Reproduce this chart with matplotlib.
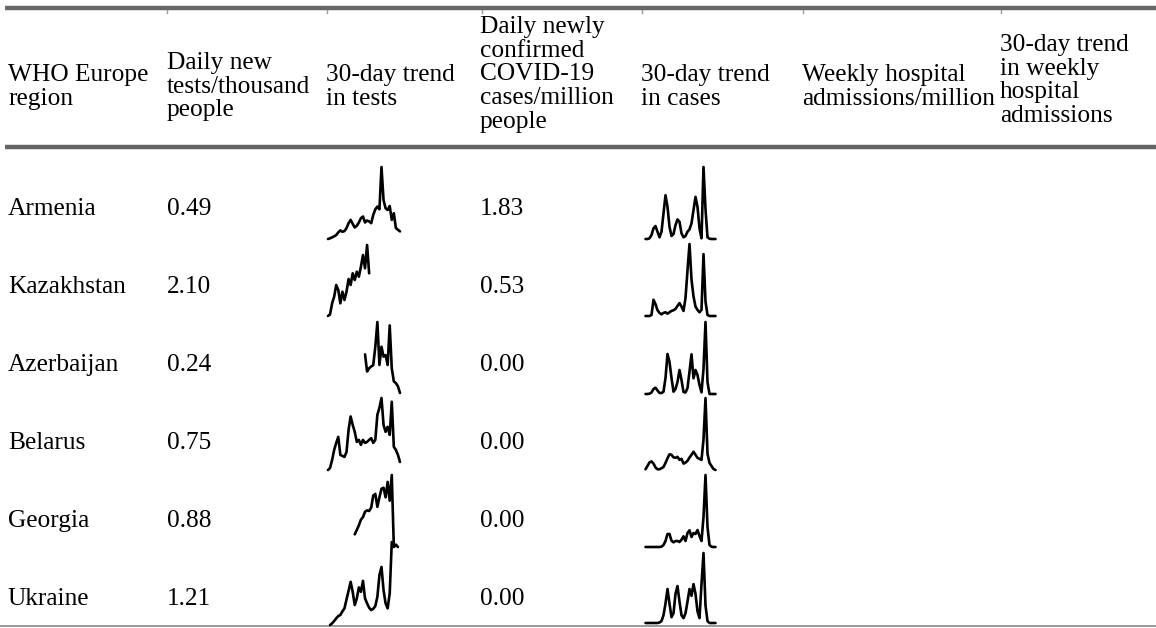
import numpy as np
import matplotlib
matplotlib.use("Agg")
import matplotlib.pyplot as plt
from matplotlib.lines import Line2D

W, H = 1156, 628
nan = np.nan

# ---------------- data ----------------
headers = [
    ["WHO Europe", "region"],
    ["Daily new", "tests/thousand", "people"],
    ["30-day trend", "in tests"],
    ["Daily newly", "confirmed", "COVID-19", "cases/million", "people"],
    ["30-day trend", "in cases"],
    ["Weekly hospital", "admissions/million"],
    ["30-day trend", "in weekly", "hospital", "admissions"],
]
countries = ["Armenia", "Kazakhstan", "Azerbaijan", "Belarus", "Georgia", "Ukraine"]
tests_per_thousand = ["0.49", "2.10", "0.24", "0.75", "0.88", "1.21"]
cases_per_million = ["1.83", "0.53", "0.00", "0.00", "0.00", "0.00"]

tests_armenia = [0, 0.7, 1.7, 2.7, 4, 6.7, 8.7, 7.3, 8, 11, 16, 19.3, 15.3, 11.7, 13.3, 16.7,
                 21, 22.7, 16.7, 18.7, 17.7, 16, 24.3, 30, 32.7, 30, 72.7, 39.3, 31, 29.3,
                 33.3, 19.3, 26, 11, 9.3, 7.7]
tests_kazakhstan = [0, 1.7, 12.7, 19.3, 31, 26, 12.7, 24.3, 16, 24.3, 37, 31, 42.7, 36, 44.3,
                    39.3, 49.3, 61, 47.7, 71, 42.7] + [nan] * 15
tests_azerbaijan = [nan] * 18 + [39, 21.7, 25, 26.7, 28.3, 46.7, 71.7, 28.3, 46.7, 36.7, 38.3,
                                 28.3, 68.3, 25, 11.7, 10, 6.7, 0]
tests_belarus = [0, 2, 10, 20, 27, 33, 15, 14, 13, 18, 40, 53.3, 45, 38, 28, 30, 25, 30, 27,
                 28, 30, 31.7, 27, 30, 55, 62, 71.7, 45, 38, 43, 35, 68, 23, 20, 15, 8]
tests_georgia = [nan] * 13 + [14, 18.3, 22.7, 28.3, 30.7, 36, 37.3, 36.7, 40, 51.7, 53.3, 40.7,
                              50, 58.3, 59.3, 50, 65, 46.7, 71.7, 1.7, 4, 1.7, nan]
tests_ukraine = [nan, 0, 1.7, 4, 6.7, 9, 10, 13.7, 16.7, 25.7, 34.3, 43.3, 33.3, 20, 26.7, 37.7,
                 33.3, 44.3, 26.7, 21.7, 17.3, 15, 16.3, 19, 28.3, 50, 58.3, 35, 21.7, 16.7,
                 31.7, 83.3, nan, nan, nan, nan]

cases_armenia = [0, 0, 0.7, 4, 10.7, 13, 7.3, 1.7, 7.3, 25.7, 44, 32.3, 12.3, 3, 5, 14, 19.7,
                 17.3, 5.7, 1.7, 3, 7.3, 9.7, 15.7, 29, 42.3, 32.3, 10.7, 0.7, 72.3, 30, 1.7,
                 0.3, 0, 0, 0]
cases_kazakhstan = [0, 0, 0, 1, 16, 11.7, 5.7, 3, 1.7, 3, 3.7, 2.3, 3.7, 5, 5.7, 7, 10, 12.7,
                    9.3, 5, 17.7, 45, 71, 36, 19.3, 9.3, 6, 3.7, 6, 61, 14.3, 1, 0, 0, 0, 0]
cases_azerbaijan = [0, 0, 0.3, 1.5, 5, 6.3, 3.5, 1, 1, 2.3, 16, 40, 32, 16, 2.3, 5, 12, 24, 14,
                    2, 1.5, 6, 22.3, 39.7, 15.7, 24, 19, 9, 1.7, 25, 72, 12, 0, 0, 0, 0]
cases_belarus = [0.7, 4, 7.5, 8.5, 6.3, 2.5, 0.7, 0.7, 1.7, 3, 7, 11.5, 15.5, 15, 12.5, 12, 13,
                 10, 11, 6.3, 7.3, 9, 12.3, 15, 18, 15, 12, 11, 10, 30, 71, 16, 7, 4, 1, 0]
cases_georgia = [0, 0, 0, 0, 0, 0, 0, 0, 0.3, 2, 6, 13, 13, 6.3, 4.7, 6, 6, 5, 7.3, 10.7, 6,
                 14, 16.7, 10, 14, 13, 17, 11, 6, 30, 72, 20, 2, 0.3, 0, 0]
cases_ukraine = [0, 0, 0, 0, 0, 0, 0, 0.5, 2, 8, 20, 35, 20, 6, 10, 30, 38, 22, 8, 5, 10, 22, 35,
                 28, 40, 30, 12, 5, 40, 72, 18, 2, 0, 0, 0, 0]

tests_series = [tests_armenia, tests_kazakhstan, tests_azerbaijan, tests_belarus,
                tests_georgia, tests_ukraine]
cases_series = [cases_armenia, cases_kazakhstan, cases_azerbaijan, cases_belarus,
                cases_georgia, cases_ukraine]

# ---------------- layout ----------------
plt.rcParams['font.family'] = ['Liberation Serif', 'DejaVu Serif']
FS = 18.3
fig = plt.figure(figsize=(W / 100, H / 100), dpi=100)
ax = fig.add_axes([0, 0, 1, 1])
ax.set_xlim(0, W)
ax.set_ylim(H, 0)
ax.axis('off')

col_x = [8, 167, 326, 480, 641, 802, 1000]
header_first_y = [75, 63, 75, 27, 75, 75, 45]
line_step = 23.7
for cx, fy, lines in zip(col_x, header_first_y, headers):
    for j, ln in enumerate(lines):
        ax.text(cx, fy + j * line_step, ln, fontsize=FS, va='center', ha='left', color='black')

row_y = [209, 287, 365, 443, 521, 599]
for ry, c, t, cs in zip(row_y, countries, tests_per_thousand, cases_per_million):
    ax.text(col_x[0], ry, c, fontsize=FS, va='center', ha='left')
    ax.text(col_x[1], ry, t, fontsize=FS, va='center', ha='left')
    ax.text(col_x[3], ry, cs, fontsize=FS, va='center', ha='left')

grey = '#666666'
ax.add_line(Line2D([5, W], [8, 8], color=grey, lw=3.2, solid_capstyle='butt'))
ax.add_line(Line2D([5, W], [146.5, 146.5], color=grey, lw=3.2, solid_capstyle='butt'))
ax.add_line(Line2D([0, W], [626, 626], color='#888888', lw=1.2, solid_capstyle='butt'))
for tx in [167, 327, 482, 642, 803, 1001]:
    ax.add_line(Line2D([tx, tx], [10, 13], color='#999999', lw=1.0))

# sparkline boxes (pixel top, bottom)
tests_box = [(167, 239), (245, 316), (322, 393), (398, 470), (475, 547), (542, 625)]
cases_box = [(167, 239), (244, 316), (322, 394), (398, 470), (475, 547), (553, 623)]
tests_x = (328, 400)
cases_x = (645.5, 715.5)


def spark(series, box, xr):
    top, bot = box
    rect = [xr[0] / W, 1 - bot / H, (xr[1] - xr[0]) / W, (bot - top) / H]
    sa = fig.add_axes(rect)
    vals = np.array(series, dtype=float)
    days = np.arange(len(vals))
    sa.plot(days, vals, color='black', lw=1.9, clip_on=False, solid_joinstyle='round',
            solid_capstyle='round')
    sa.set_xlim(0, len(vals) - 1)
    sa.set_ylim(np.nanmin(vals), np.nanmax(vals))
    sa.axis('off')
    sa.patch.set_alpha(0)


for s, b in zip(tests_series, tests_box):
    spark(s, b, tests_x)
for s, b in zip(cases_series, cases_box):
    spark(s, b, cases_x)

fig.savefig('out.png', dpi=100)
